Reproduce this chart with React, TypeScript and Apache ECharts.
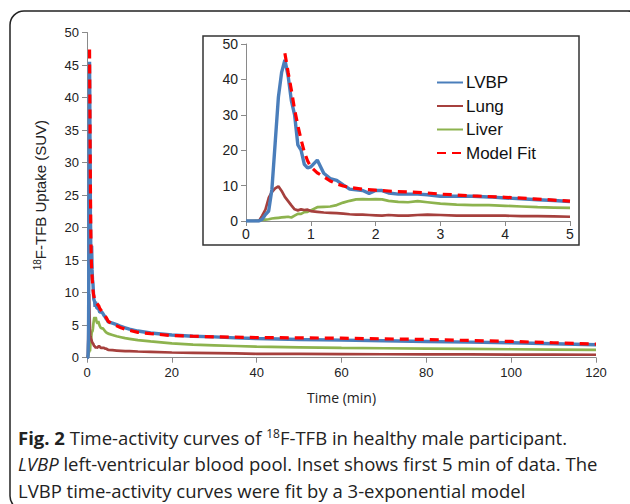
import React, { useEffect, useRef } from 'react';
import * as echarts from 'echarts';

// PET frame mid-times (min)
const frameTimes = [
  0, 0.1, 0.2, 0.25, 0.3, 0.35, 0.4, 0.45, 0.5, 0.55, 0.6, 0.65, 0.7, 0.75, 0.8, 0.85, 0.9, 0.95,
  1.0, 1.1, 1.2, 1.3, 1.4, 1.5, 1.6, 1.7, 1.8, 1.9, 2.0, 2.1, 2.2, 2.35, 2.5, 2.65, 2.8, 3.0,
  3.25, 3.5, 3.75, 4.0, 4.25, 4.5, 4.75, 5.0, 6, 7, 8, 9, 10, 12, 15, 20, 25, 30, 35, 40, 50,
  60, 70, 80, 90, 100, 110, 120,
];
const lvbpValues = [
  0, 0, 0, 0.5, 1.8, 2.8, 9, 22, 35, 42, 45.5, 41, 34, 30, 21.5, 20, 16, 15,
  15.3, 17.2, 13.5, 12, 11.5, 10.2, 9, 8.8, 8.6, 7.8, 8.6, 8.6, 7.9, 7.6, 7.6, 7.6, 7.4, 7.0,
  7.0, 7.0, 6.8, 6.5, 6.3, 6.0, 5.8, 5.5, 5.3, 5.1, 4.8, 4.6, 4.4, 4.1, 3.8, 3.5, 3.3, 3.2, 3.05, 2.95, 2.8,
  2.7, 2.6, 2.5, 2.4, 2.3, 2.15, 2.0,
];
const lungValues = [
  0, 0, 0, 1.5, 3.2, 6.5, 8.2, 9.2, 9.8, 8.5, 6.8, 5.6, 4.4, 3.3, 3.0, 3.3, 3.1, 3.2,
  2.8, 2.6, 2.4, 2.3, 2.2, 2.1, 1.9, 1.8, 1.8, 1.7, 1.6, 1.5, 1.7, 1.5, 1.5, 1.7, 1.8, 1.7,
  1.5, 1.5, 1.5, 1.5, 1.4, 1.4, 1.3, 1.2, 1.15, 1.1, 1.05, 1.0, 1.0, 0.95, 0.9, 0.8, 0.75, 0.7, 0.65, 0.6, 0.58,
  0.55, 0.53, 0.5, 0.5, 0.48, 0.47, 0.45,
];
const liverValues = [
  0, 0, 0.1, 0.3, 0.4, 0.5, 0.7, 0.8, 0.9, 1.0, 1.1, 1.2, 1.0, 1.5, 2.0, 2.0, 2.5, 2.6,
  3.0, 3.9, 4.0, 4.1, 4.5, 5.2, 5.7, 6.1, 6.2, 6.1, 6.2, 6.1, 5.7, 5.4, 5.3, 5.6, 5.3, 4.9,
  4.6, 4.5, 4.5, 4.3, 4.1, 3.9, 3.8, 3.7, 3.5, 3.3, 3.15, 3.0, 2.9, 2.7, 2.5, 2.2, 2.0, 1.9, 1.8, 1.7, 1.6,
  1.5, 1.45, 1.4, 1.35, 1.3, 1.25, 1.2,
];
const fitTimes = [
  0.6, 0.65, 0.7, 0.75, 0.8, 0.85, 0.9, 0.95, 1.0, 1.1, 1.2, 1.3, 1.4, 1.5, 1.6, 1.8, 2.0, 2.25,
  2.5, 2.75, 3.0, 3.5, 4.0, 4.5, 5.0, 6, 7, 8, 10, 12, 15, 20, 25, 30, 40, 50, 60, 70, 80, 90,
  100, 110, 120,
];
const fitValues = [
  47.4, 42, 37, 31.5, 27, 23, 19.5, 17, 15.3, 13.6, 12.5, 11.3, 10.5, 9.9, 9.5, 9.0, 8.7, 8.4,
  8.2, 8.0, 7.6, 7.1, 6.7, 6.2, 5.6, 5.2, 4.9, 4.6, 4.2, 3.9, 3.7, 3.4, 3.3, 3.2, 3.1, 3.05, 3.0, 2.9, 2.8, 2.65,
  2.5, 2.3, 2.1,
];

const seriesNames = ['LVBP', 'Lung', 'Liver', 'Model Fit'];
const seriesColors = ['#4A7EBB', '#A6403D', '#8DB34E', '#FF0000'];

const mainX = { min: 0, max: 120, interval: 20 };
const mainY = { min: 0, max: 50, interval: 5 };
const insetX = { min: 0, max: 5, interval: 1 };
const insetY = { min: 0, max: 50, interval: 10 };

const xTitle = 'Time (min)';
const yTitleSup = '18';
const yTitleRest = 'F-TFB Uptake (SUV)';

const SANS = '"Liberation Sans", Arial, sans-serif';
const CAP = '"Open Sans", sans-serif';

export default function App() {
  const ref = useRef<HTMLDivElement>(null);

  useEffect(() => {
    const chart = echarts.init(ref.current!, null, { renderer: 'svg' });
    const pair = (ts: number[], vs: number[], maxT: number) =>
      ts.map((t, i) => [t, vs[i]]).filter((p) => p[0] <= maxT);

    const axisCommon = (gridIndex: number, fontSize: number, margin: number) => ({
      gridIndex,
      type: 'value' as const,
      axisLine: { show: true, onZero: false, lineStyle: { color: '#8a8a8a', width: 1 } },
      axisTick: { show: true, inside: false, length: 5, lineStyle: { color: '#8a8a8a' } },
      axisLabel: { color: '#222', fontSize, fontFamily: SANS, margin },
      splitLine: { show: false },
    });

    const makeSeries = (gridIdx: number, maxT: number) => {
      const datasets = [
        pair(frameTimes, lvbpValues, maxT),
        pair(frameTimes, lungValues, maxT),
        pair(frameTimes, liverValues, maxT),
        pair(fitTimes, fitValues, maxT),
      ];
      return datasets.map((d, i) => ({
        type: 'line' as const,
        name: seriesNames[i],
        xAxisIndex: gridIdx,
        yAxisIndex: gridIdx,
        data: d,
        symbol: 'none',
        showSymbol: false,
        z: i === 3 ? 5 : 3 - i + 1,
        lineStyle: {
          color: seriesColors[i],
          width: i === 0 ? 3.4 : i === 3 ? 3.2 : 2.7,
          type: i === 3 ? [9, 6] : 'solid',
        },
        itemStyle: { color: seriesColors[i] },
      }));
    };

    const option: any = {
      animation: false,
      backgroundColor: '#ffffff',
      grid: [
        { left: 87, top: 32.5, width: 509, height: 325.2 },
        { left: 246, top: 44, width: 324, height: 177 },
      ],
      xAxis: [
        {
          ...axisCommon(0, 13, 8),
          ...mainX,
          name: xTitle,
          nameLocation: 'middle',
          nameGap: 33,
          nameTextStyle: { fontFamily: CAP, fontSize: 14, color: '#222' },
        },
        { ...axisCommon(1, 14, 6), ...insetX },
      ],
      yAxis: [
        {
          ...axisCommon(0, 13, 8),
          ...mainY,
          name: `{sup|${yTitleSup}}{n|${yTitleRest}}`,
          nameLocation: 'middle',
          nameRotate: 90,
          nameGap: 39,
          nameTextStyle: {
            color: '#222',
            rich: {
              sup: { fontSize: 10, fontFamily: SANS, color: '#222', verticalAlign: 'top', lineHeight: 16 },
              n: { fontSize: 15, fontFamily: SANS, color: '#222', lineHeight: 16 },
            },
          },
        },
        { ...axisCommon(1, 14, 8), ...insetY },
      ],
      legend: {
        data: seriesNames,
        orient: 'vertical',
        left: 431,
        top: 69,
        itemWidth: 26,
        itemHeight: 14,
        itemGap: 6.5,
        itemStyle: { opacity: 0 },
        textStyle: { fontSize: 17, fontFamily: SANS, color: '#111', padding: [0, 0, 0, -2] },
      },
      graphic: {
        elements: [
          {
            type: 'rect',
            z: 0,
            shape: { x: 10, y: 11, width: 632, height: 499, r: 14 },
            style: { fill: 'none', stroke: '#222', lineWidth: 1.5 },
          },
          {
            type: 'rect',
            z: 0,
            shape: { x: 203, y: 36, width: 376, height: 209 },
            style: { fill: 'none', stroke: '#333', lineWidth: 1.5 },
          },
          {
            type: 'text',
            z: 10,
            x: 18,
            y: 424,
            style: {
              text:
                '{b|Fig. 2} Time-activity curves of {sup|18}F-TFB in healthy male participant.\n' +
                '{i|LVBP} left-ventricular blood pool. Inset shows first 5 min of data. The\n' +
                'LVBP time-activity curves were fit by a 3-exponential model',
              fontFamily: CAP,
              fontSize: 18.5,
              fill: '#222',
              lineHeight: 26.5,
              verticalAlign: 'top',
              rich: {
                b: { fontFamily: CAP, fontSize: 18.5, fontWeight: 'bold', fill: '#222', lineHeight: 26.5 },
                i: { fontFamily: CAP, fontSize: 18.5, fontStyle: 'italic', fill: '#222', lineHeight: 26.5 },
                sup: { fontFamily: CAP, fontSize: 12, fill: '#222', lineHeight: 26.5, verticalAlign: 'top', padding: [3, 0, 0, 0] },
              },
            },
          },
        ],
      },
      series: [...makeSeries(0, 120), ...makeSeries(1, 5)],
    };

    chart.setOption(option);
    return () => chart.dispose();
  }, []);

  return (
    <div
      ref={ref}
      style={{ position: 'fixed', left: 0, top: 0, width: 630, height: 504, background: '#fff' }}
    />
  );
}
